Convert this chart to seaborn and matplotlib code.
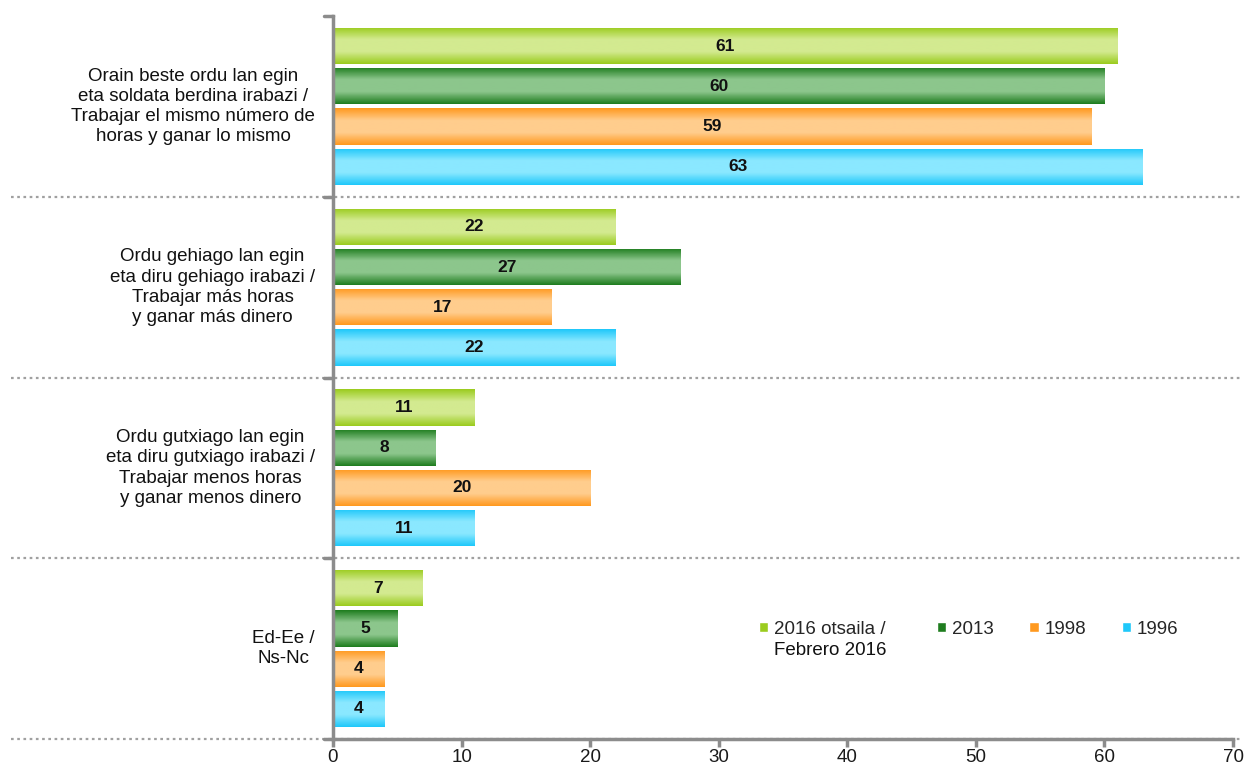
import matplotlib
matplotlib.use("Agg")
import matplotlib.pyplot as plt
import matplotlib.transforms as mtransforms
from matplotlib.colors import LinearSegmentedColormap
import seaborn as sns
import pandas as pd
import numpy as np

# --- data ---
categories = [
    "Orain beste ordu lan egin\neta soldata berdina irabazi /\nTrabajar el mismo número de\nhoras y ganar lo mismo",
    "Ordu gehiago lan egin\neta diru gehiago irabazi /\nTrabajar más horas\ny ganar más dinero",
    "Ordu gutxiago lan egin\neta diru gutxiago irabazi /\nTrabajar menos horas\ny ganar menos dinero",
    "Ed-Ee /\nNs-Nc",
]
series = ["2016 otsaila /", "2013", "1998", "1996"]
series_extra = "Febrero 2016"  # second line of the first legend entry
v2016 = [61, 22, 11, 7]
v2013 = [60, 27, 8, 5]
v1998 = [59, 17, 20, 4]
v1996 = [63, 22, 11, 4]

# edge colour / centre colour of each gradient bar
edge_colors = ["#9bcc1f", "#1f7d1f", "#ff991f", "#1fc8fa"]
center_colors = ["#d3ea90", "#8cc68c", "#ffcd8d", "#8ae8ff"]

rows = []
for s, vals in zip(series, [v2016, v2013, v1998, v1996]):
    for c, v in zip(categories, vals):
        rows.append({"cat": c, "serie": s, "value": v})
df = pd.DataFrame(rows)

sns.set_style("white")
plt.rcParams["font.family"] = ["Liberation Sans", "DejaVu Sans"]

fig = plt.figure(figsize=(12.47, 7.67), dpi=100)
ax = fig.add_axes([333 / 1247, 1 - 739 / 767, 900 / 1247, 723 / 767])

sns.barplot(data=df, y="cat", x="value", hue="serie", orient="h",
            palette=edge_colors, width=0.89, gap=0.1, ax=ax,
            saturation=1, legend=True, errorbar=None)

# gradient fill clipped to each bar + value labels
grad = np.linspace(0, 1, 64).reshape(-1, 1)
for i, s in enumerate(series):
    cmap = LinearSegmentedColormap.from_list(
        f"g{i}", [edge_colors[i], center_colors[i], center_colors[i], edge_colors[i]])
    for j in range(len(categories)):
        p = ax.patches[i * len(categories) + j]
        x0, y0 = p.get_x(), p.get_y()
        w, h = p.get_width(), p.get_height()
        im = ax.imshow(grad, cmap=cmap, aspect="auto", extent=[x0, x0 + w, y0 + h, y0],
                       interpolation="bilinear", zorder=p.get_zorder() + 0.1)
        im.set_clip_path(p)
        ax.text(x0 + w / 2, y0 + h / 2, f"{int(round(w))}", ha="center", va="center",
                fontsize=12.5, fontweight="bold", color="#111111", zorder=5)
        p.set_edgecolor("white")
        p.set_linewidth(0.8)

ax.set_xlim(0, 70)
ax.set_ylim(3.5, -0.5)

# axes styling
for side in ["top", "right"]:
    ax.spines[side].set_visible(False)
for side in ["left", "bottom"]:
    ax.spines[side].set_color("#8c8c8c")
    ax.spines[side].set_linewidth(2.5)

ax.set_xticks(range(0, 71, 10))
ax.tick_params(axis="x", direction="out", length=6, width=2.5, color="#8c8c8c",
               labelsize=13.5, pad=1, labelcolor="#1a1a1a", bottom=True)
ax.set_yticks([])
ax.set_xlabel("")
ax.set_ylabel("")

trans = mtransforms.blended_transform_factory(ax.transAxes, ax.transData)

# category labels
for k, c in enumerate(categories):
    ax.text(-0.02, k, c, transform=trans, ha="right", va="center",
            multialignment="center", fontsize=13.5, linespacing=1.25, color="#111111")

# dotted separators, extending into the label area
for yb in [-0.5, 0.5, 1.5, 2.5, 3.5]:
    if yb > -0.5:
        ax.plot([-0.358, 1.008], [yb, yb], transform=trans, clip_on=False,
                color="#a0a0a0", lw=1.6, ls=(0, (1.2, 1.6)), zorder=1)
    ax.plot([-0.01, 0], [yb, yb], transform=trans, clip_on=False,
            color="#8c8c8c", lw=2.5, zorder=3)

# legend
handles, labels = ax.get_legend_handles_labels()
labels[0] = labels[0] + "   "
leg = ax.legend(handles, labels, loc="upper left", bbox_to_anchor=(0.4545, 0.187),
                ncol=4, frameon=False, fontsize=13.5, handlelength=0.5, handleheight=0.5,
                handletextpad=0.3, columnspacing=1.9)

# second line of the first legend label, placed under it
fig.canvas.draw()
bb = leg.get_texts()[0].get_window_extent()
fig.text(bb.x0 / fig.bbox.width, (bb.y0 - 21) / fig.bbox.height, series_extra,
         fontsize=13.5, ha="left", va="bottom", color="#111111")

fig.savefig("out.png", dpi=100)
